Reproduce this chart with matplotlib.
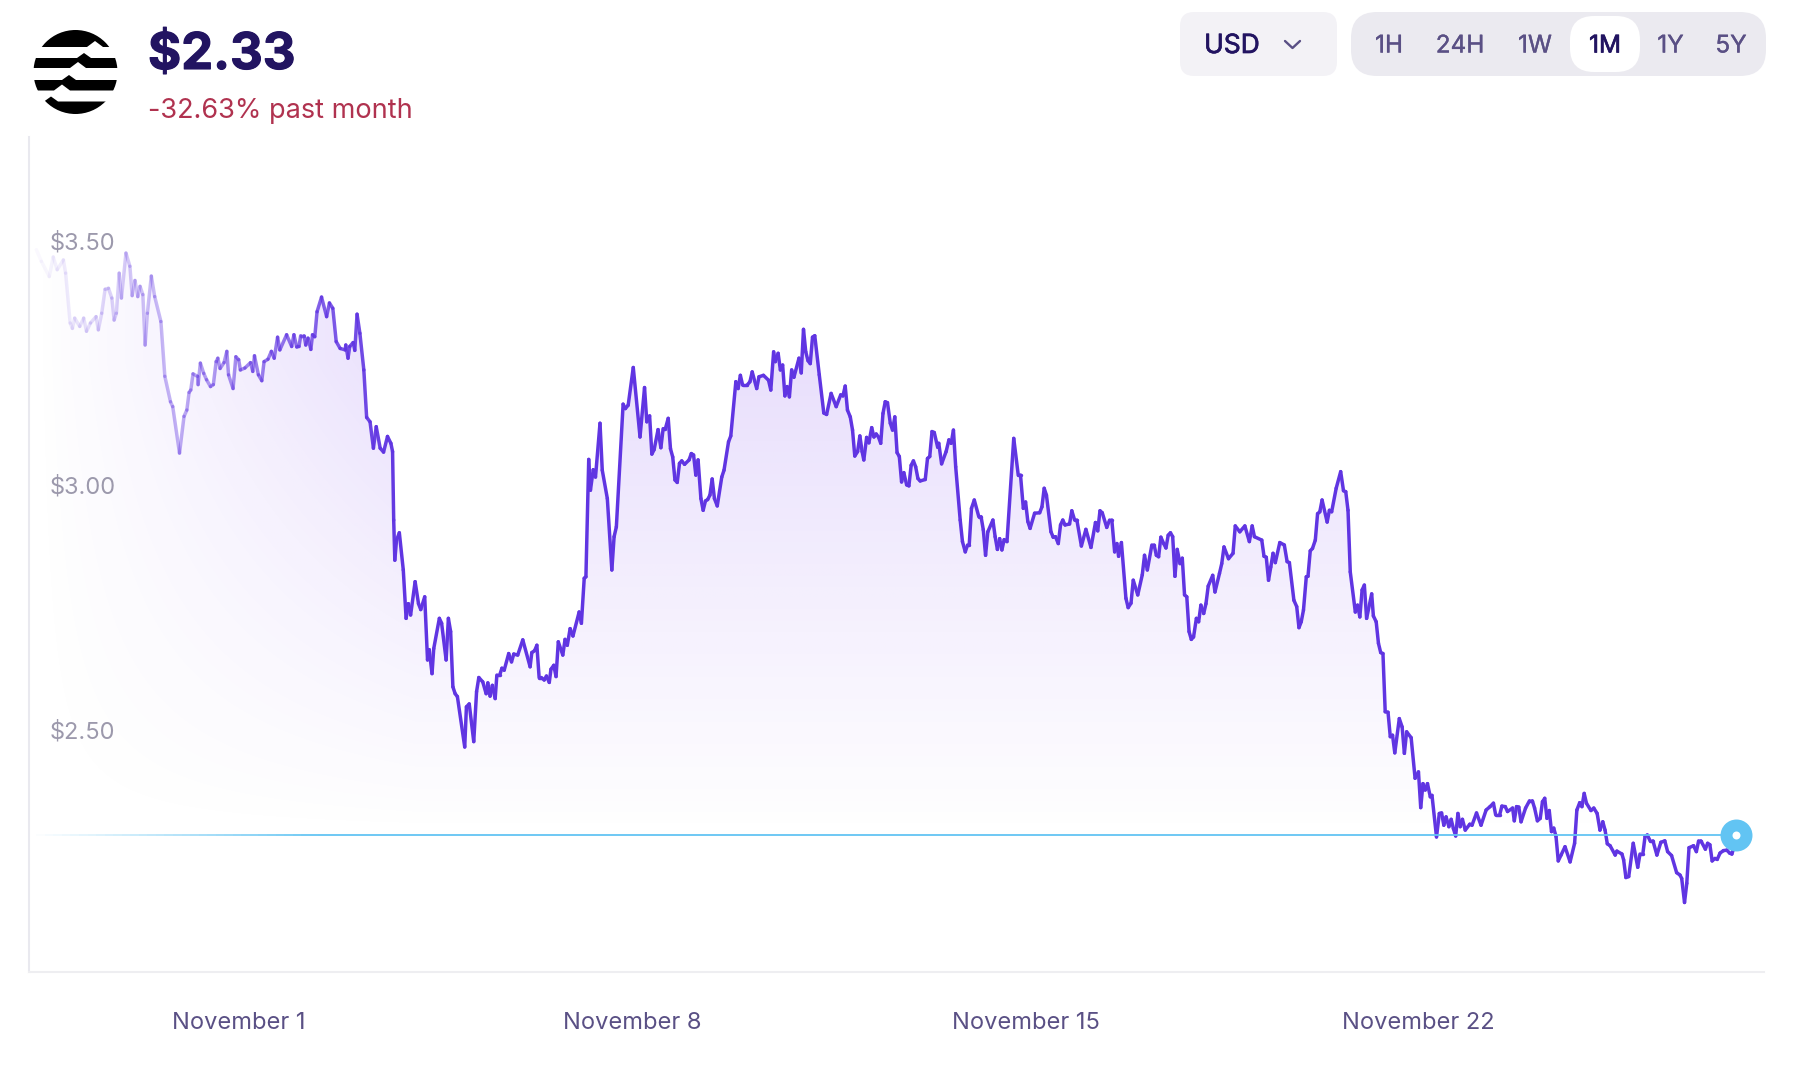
import numpy as np
import matplotlib
matplotlib.use("Agg")
import matplotlib.pyplot as plt
import matplotlib.patheffects as pe
from matplotlib.collections import LineCollection
from matplotlib.colors import to_rgb
from matplotlib.patches import Circle, FancyBboxPatch, Polygon
from matplotlib.path import Path

# ---------- data: days since November 1, price in USD ----------
days = [-3.63,-3.54,-3.40,-3.33,-3.26,-3.15,-3.11,-3.03,-2.99,-2.95,-2.86,-2.79,-2.74,-2.67,-2.57,-2.53,-2.47,-2.41,-2.35,-2.29,-2.25,-2.21,-2.16,-2.12,-2.04,-1.97,-1.93,-1.88,-1.83,-1.79,-1.74,-1.70,-1.66,-1.59,-1.53,-1.42,-1.35,-1.25,-1.21,-1.09,-1.01,-0.96,-0.92,-0.89,-0.85,-0.77,-0.76,-0.72,-0.66,-0.61,-0.54,-0.49,-0.44,-0.41,-0.37,-0.30,-0.25,-0.22,-0.14,-0.09,-0.04,-0.01,
0.07,0.17,0.21,0.24,0.31,0.37,0.41,0.48,0.54,0.59,0.65,0.69,0.81,0.90,0.94,0.99,1.03,1.06,1.12,1.15,1.19,1.24,1.27,1.31,1.35,1.43,1.52,1.57,1.63,1.69,1.76,1.85,1.86,1.90,1.93,1.99,2.02,2.06,2.11,2.18,2.23,2.29,2.35,2.40,2.47,2.53,2.60,2.66,2.69,
2.71,2.73,2.76,2.81,2.88,2.93,2.97,3.01,3.09,3.15,3.19,3.26,3.31,3.34,3.39,3.42,3.52,3.56,3.64,3.68,3.72,3.76,3.80,3.84,3.97,4.00,4.05,4.13,4.18,4.22,4.29,4.35,4.38,4.42,4.46,4.51,4.54,4.59,4.63,4.67,4.75,4.80,4.84,4.91,5.00,5.13,5.16,5.21,5.25,5.29,5.33,5.38,5.42,5.47,5.50,5.55,5.59,5.63,5.71,5.75,5.79,5.84,5.89,6.00,6.04,6.09,6.12,6.17,6.20,6.25,6.29,6.37,6.41,6.50,6.58,6.62,6.66,6.78,6.82,6.87,6.96,7.08,7.16,7.20,7.25,7.29,7.33,7.40,7.45,7.49,7.53,7.58,7.62,7.66,7.70,7.74,7.78,7.82,7.87,7.95,7.99,8.03,8.07,8.11,8.16,8.20,8.24,8.28,8.32,8.36,8.40,8.45,8.53,8.57,8.65,8.69,8.78,8.82,8.86,8.90,8.98,9.03,9.07,9.15,9.19,9.27,9.36,9.40,
9.45,9.48,9.53,9.57,9.61,9.65,9.69,9.73,9.77,9.81,9.90,9.94,9.98,10.02,10.06,10.10,10.14,10.18,10.26,10.34,10.39,10.47,10.56,10.64,10.68,10.72,10.76,10.81,10.85,10.89,10.94,10.98,11.02,11.05,11.10,11.14,11.19,11.23,11.27,11.31,11.35,11.39,11.43,11.47,11.52,11.56,11.60,11.64,11.68,11.72,11.76,11.81,11.85,11.89,11.93,11.97,12.01,12.05,12.14,12.18,12.22,12.26,12.30,12.36,12.38,12.43,12.51,12.56,12.60,12.64,12.68,12.76,12.80,12.85,12.89,12.92,12.96,13.01,13.09,13.13,13.17,13.21,13.25,13.34,13.38,13.42,13.46,13.50,13.54,13.59,13.71,13.79,13.83,13.88,13.92,13.96,14.00,14.08,14.17,14.21,14.25,14.29,14.37,14.41,14.45,14.50,14.54,14.58,14.62,14.70,14.74,14.79,14.83,14.91,14.99,15.08,15.16,15.20,15.24,15.28,15.36,15.41,15.45,15.50,15.54,15.57,15.62,15.70,15.74,15.79,15.83,15.91,15.99,16.03,16.08,16.16,16.20,16.24,16.28,16.32,16.37,16.41,16.45,16.49,16.53,16.57,16.61,16.66,16.70,16.74,16.78,16.82,16.86,16.90,16.95,
16.99,17.03,17.08,17.12,17.16,17.24,17.28,17.36,17.40,17.44,17.52,17.60,17.64,17.72,17.81,17.89,17.94,17.98,18.11,18.15,18.19,18.23,18.27,18.31,18.35,18.43,18.51,18.56,18.60,18.68,18.73,18.77,18.81,18.85,18.90,18.93,18.97,19.01,19.06,19.10,19.14,19.18,19.27,19.31,19.35,19.43,19.51,19.56,19.60,19.64,19.68,19.77,19.81,19.85,19.89,19.93,19.97,20.06,20.09,20.14,20.18,20.22,20.26,20.30,20.35,20.39,20.43,20.47,20.55,20.60,20.64,20.68,20.76,20.83,20.89,20.93,20.97,21.01,21.05,21.10,21.13,21.21,21.26,21.30,21.34,21.38,21.43,21.47,21.51,21.55,21.59,21.63,21.67,21.72,21.80,21.84,21.92,
22.00,22.09,22.16,22.22,22.26,22.33,22.37,22.43,22.47,22.56,22.59,22.63,22.67,22.71,22.79,22.86,22.91,22.95,23.00,23.05,23.09,23.13,23.17,23.21,23.25,23.29,23.33,23.37,23.42,23.49,23.58,23.66,23.70,23.75,23.79,23.83,23.87,23.95,24.00,24.06,24.11,24.16,24.20,24.24,24.29,24.38,24.41,24.50,24.53,24.57,24.62,24.70,24.78,24.82,24.87,24.91,24.95,25.00,25.05,25.12,25.19,25.26,25.31,25.38,25.47,25.53,25.56,25.61,25.65,25.69,25.77,25.82,25.86,25.90,25.98,26.02,26.06,26.10,26.15,26.19,26.24,26.30,26.36,26.41,26.45,26.49]

price = [3.527,3.503,3.472,3.512,3.486,3.506,3.479,3.377,3.366,3.387,3.370,3.387,3.360,3.377,3.390,3.363,3.397,3.446,3.448,3.428,3.383,3.397,3.479,3.428,3.520,3.493,3.433,3.464,3.431,3.452,3.435,3.332,3.397,3.473,3.431,3.380,3.268,3.216,3.206,3.111,3.186,3.199,3.235,3.240,3.273,3.268,3.251,3.295,3.274,3.261,3.247,3.251,3.298,3.305,3.284,3.296,3.319,3.271,3.243,3.308,3.302,3.281,
3.285,3.296,3.278,3.310,3.271,3.259,3.298,3.303,3.319,3.305,3.348,3.322,3.353,3.329,3.353,3.328,3.329,3.351,3.351,3.332,3.346,3.323,3.353,3.349,3.400,3.430,3.390,3.418,3.407,3.339,3.325,3.322,3.332,3.305,3.329,3.337,3.321,3.395,3.356,3.281,3.184,3.175,3.121,3.165,3.121,3.113,3.145,3.131,3.114,
2.974,2.892,2.933,2.948,2.872,2.773,2.803,2.780,2.848,2.803,2.791,2.817,2.688,2.709,2.660,2.711,2.773,2.763,2.688,2.773,2.746,2.633,2.619,2.613,2.510,2.592,2.598,2.521,2.623,2.652,2.643,2.619,2.641,2.614,2.636,2.609,2.657,2.657,2.671,2.667,2.701,2.684,2.700,2.698,2.729,2.674,2.703,2.707,2.718,2.652,2.652,2.647,2.655,2.642,2.669,2.677,2.654,2.725,2.698,2.730,2.718,2.752,2.737,2.786,2.763,2.855,2.858,3.098,3.035,3.077,3.062,3.172,3.076,3.018,2.872,2.940,2.960,3.211,3.202,3.209,3.286,3.144,3.245,3.175,3.187,3.109,3.118,3.159,3.122,3.161,3.161,3.182,3.120,3.103,3.056,3.051,3.090,3.095,3.088,3.097,3.110,3.107,3.066,3.097,3.018,2.994,3.013,3.016,3.025,3.058,3.018,3.003,3.062,3.076,3.134,3.146,3.257,3.243,3.270,3.250,3.250,3.257,3.277,3.243,3.267,3.270,3.260,3.240,
3.318,3.298,3.315,3.281,3.291,3.228,3.247,3.226,3.281,3.266,3.305,3.275,3.364,3.318,3.300,3.294,3.348,3.351,3.271,3.193,3.190,3.233,3.206,3.230,3.228,3.248,3.199,3.185,3.158,3.105,3.114,3.146,3.114,3.097,3.143,3.132,3.163,3.144,3.150,3.144,3.131,3.192,3.216,3.214,3.172,3.158,3.185,3.112,3.104,3.052,3.071,3.046,3.044,3.086,3.095,3.083,3.059,3.054,3.057,3.100,3.104,3.155,3.153,3.123,3.131,3.089,3.114,3.138,3.131,3.158,3.083,2.974,2.930,2.909,2.923,2.923,2.998,3.015,2.981,2.981,2.954,2.902,2.950,2.974,2.940,2.914,2.936,2.913,2.934,2.930,3.141,3.066,3.066,2.998,3.011,2.971,2.957,2.988,2.989,3.001,3.039,3.025,2.950,2.939,2.940,2.926,2.964,2.974,2.964,2.966,2.993,2.974,2.974,2.921,2.955,2.918,2.969,2.952,2.993,2.989,2.959,2.974,2.974,2.909,2.926,2.900,2.928,2.814,2.795,2.804,2.851,2.821,2.862,2.902,2.872,2.923,2.923,2.902,2.899,2.939,2.926,2.917,2.943,2.948,2.940,2.859,2.914,2.885,2.896,2.821,2.817,2.746,2.730,2.735,2.773,
2.766,2.800,2.783,2.803,2.839,2.861,2.827,2.865,2.885,2.919,2.895,2.906,2.962,2.950,2.962,2.930,2.962,2.940,2.933,2.900,2.898,2.851,2.878,2.906,2.887,2.928,2.923,2.889,2.887,2.810,2.797,2.754,2.766,2.790,2.858,2.859,2.911,2.916,2.933,2.987,2.991,3.015,2.970,2.994,2.991,3.039,3.073,3.034,3.032,2.994,2.868,2.786,2.800,2.776,2.831,2.841,2.773,2.823,2.778,2.766,2.722,2.703,2.701,2.582,2.581,2.531,2.534,2.498,2.568,2.551,2.497,2.541,2.529,2.446,2.459,2.386,2.435,2.422,2.435,2.408,2.411,2.326,2.374,2.375,2.350,2.367,2.347,2.362,2.343,2.328,2.374,2.347,2.362,2.340,2.352,2.350,2.375,
2.350,2.381,2.388,2.395,2.371,2.371,2.389,2.388,2.378,2.385,2.359,2.388,2.387,2.357,2.385,2.400,2.400,2.385,2.359,2.364,2.398,2.405,2.364,2.380,2.337,2.344,2.327,2.277,2.289,2.306,2.275,2.313,2.381,2.396,2.388,2.415,2.395,2.380,2.385,2.374,2.340,2.357,2.340,2.312,2.308,2.289,2.297,2.291,2.279,2.243,2.245,2.313,2.264,2.291,2.291,2.327,2.330,2.318,2.318,2.289,2.315,2.318,2.296,2.288,2.253,2.248,2.241,2.192,2.231,2.304,2.308,2.296,2.318,2.318,2.301,2.313,2.310,2.277,2.282,2.280,2.293,2.298,2.299,2.293,2.291,2.306]

current_price = 2.33
current_day = 26.53
y_ticks = [2.50, 3.00, 3.50]
y_labels = ["$2.50", "$3.00", "$3.50"]
x_ticks = [-0.04, 6.94, 13.92, 20.88]
x_labels = ["November 1", "November 8", "November 15", "November 22"]
ranges = ["1H", "24H", "1W", "1M", "1Y", "5Y"]

# ---------- style ----------
FONT = "Inter"
plt.rcParams["font.family"] = [FONT, "DejaVu Sans"]
DARK = "#221461"
MUTED = "#5A5085"
PURPLE = "#6035E2"
BLUE = "#62C4F3"

W, H = 1802, 1070
fig = plt.figure(figsize=(W / 100, H / 100), dpi=100, facecolor="white")
L, R, T, B = 29, 1764, 137, 972
ax = fig.add_axes([L / W, 1 - B / H, (R - L) / W, (B - T) / H])
ax.set_xlim(-3.76, 27.02)
ax.set_ylim(2.0498, 3.7574)
ax.set_facecolor("none")

x = np.array(days)
y = np.array(price)


def fade(t):
    return np.clip((t + 3.75) / 6.6, 0.03, 1.0)


# area under the curve: gradient fading downward and toward the left
gx = np.linspace(*ax.get_xlim(), 500)
gy = np.linspace(*ax.get_ylim(), 400)
GX, GY = np.meshgrid(gx, gy)
va = np.clip((GY - 2.33) / (3.30 - 2.33), 0, 1) * 0.165
ha = np.clip((GX + 3.7) / 6.8, 0, 1)
rgba = np.zeros(GX.shape + (4,))
rgba[..., :3] = to_rgb("#7A3FF0")
rgba[..., 3] = va * ha
im = ax.imshow(rgba, origin="lower", aspect="auto", interpolation="bilinear",
               extent=[gx[0], gx[-1], gy[0], gy[-1]], zorder=1)
verts = np.vstack([[x[0], ax.get_ylim()[0]], np.column_stack([x, y]), [x[-1], ax.get_ylim()[0]]])
im.set_clip_path(Path(verts), transform=ax.transData)

# price line with fading start
pts = np.column_stack([x, y])
segs = np.stack([pts[:-1], pts[1:]], axis=1)
cols = np.zeros((len(segs), 4))
cols[:, :3] = to_rgb(PURPLE)
cols[:, 3] = fade((x[:-1] + x[1:]) / 2)
ax.add_collection(LineCollection(segs, colors=cols, linewidths=2.5, capstyle="round",
                                 joinstyle="round", zorder=3))

# current price line, fading in from the left
bx = np.linspace(x[0], current_day, 200)
bp = np.column_stack([bx, np.full_like(bx, current_price)])
bsegs = np.stack([bp[:-1], bp[1:]], axis=1)
bcols = np.zeros((len(bsegs), 4))
bcols[:, :3] = to_rgb(BLUE)
bcols[:, 3] = np.clip((bx[:-1] + 3.75) / 5, 0, 1)
ax.add_collection(LineCollection(bsegs, colors=bcols, linewidths=1.3, zorder=4))
ax.scatter([current_day], [current_price], s=530, color=BLUE, linewidths=0, zorder=5, clip_on=False)
ax.scatter([current_day], [current_price], s=33, color="white", linewidths=0, zorder=6, clip_on=False)

# axes
for s in ("top", "right"):
    ax.spines[s].set_visible(False)
ax.spines["left"].set_color("#E9E9EF")
ax.spines["left"].set_linewidth(1.5)
ax.spines["bottom"].set_color("#EEEEF1")
ax.spines["bottom"].set_linewidth(1.5)
ax.set_yticks([])
ax.set_xticks(x_ticks, x_labels)
ax.tick_params(axis="x", length=0, pad=28.5, labelsize=17, labelcolor=MUTED)
for v, lab in zip(y_ticks, y_labels):
    ax.annotate(lab, xy=(0, v), xycoords=ax.get_yaxis_transform(), xytext=(21, 20),
                textcoords="offset pixels", ha="left", va="center", fontsize=17,
                color="#9C99AC", zorder=7)

# ---------- header UI, in pixel coordinates ----------
ui = fig.add_axes([0, 0, 1, 1], zorder=10)
ui.set_xlim(0, W)
ui.set_ylim(H, 0)
ui.axis("off")
ui.patch.set_alpha(0)


def panel(x0, y0, x1, y1, r, color):
    ui.add_patch(FancyBboxPatch((x0 + r, y0 + r), x1 - x0 - 2 * r, y1 - y0 - 2 * r,
                                boxstyle=f"round,pad={r},rounding_size={r}",
                                fc=color, ec="none"))


panel(1180, 12, 1337, 76, 14, "#F3F2F6")
panel(1351, 12, 1766, 76, 26, "#EBEAF0")
panel(1570, 16, 1640, 72, 24, "white")
usd = ui.text(1232, 46, "USD", ha="center", va="center", fontsize=19, color=DARK)
usd.set_path_effects([pe.withStroke(linewidth=0.5, foreground=DARK)])
ui.plot([1285, 1292.5, 1300], [41, 48, 41], color=MUTED, lw=1.7, solid_capstyle="round")
range_x = [1389, 1460, 1535, 1605, 1670.5, 1731]
for rx, r in zip(range_x, ranges):
    active = r == "1M"
    t = ui.text(rx, 46, r, ha="center", va="center", fontsize=17.5,
                color=DARK if active else MUTED)
    t.set_path_effects([pe.withStroke(linewidth=0.5 if active else 0.25,
                                      foreground=DARK if active else MUTED)])

title = ui.text(148, 69, "$2.33", ha="left", va="baseline", fontsize=36.5, fontweight="bold", color=DARK)
title.set_path_effects([pe.withStroke(linewidth=0.8, foreground=DARK)])
ui.text(148, 118, "-32.63% past month", ha="left", va="baseline", fontsize=19.5, color="#B0324F")

# logo
cx, cy, rad = 75.5, 72, 42
ui.add_patch(Circle((cx, cy), rad, fc="black", ec="none"))
for yt, yb, xa, xb in [(47, 58, 95, 84), (68, 80, 78, 69), (90.5, 101.5, 62, 51)]:
    gap = Polygon([(cx - rad - 2, yt), (xa - 8, yt), (xa, yt - 6), (xa + 8, yt), (cx + rad + 2, yt),
                   (cx + rad + 2, yb), (xb + 7, yb), (xb, yb - 5), (xb - 7, yb), (cx - rad - 2, yb)],
                  closed=True, fc="white", ec="none")
    ui.add_patch(gap)

fig.savefig("out.png", dpi=100, facecolor="white")
